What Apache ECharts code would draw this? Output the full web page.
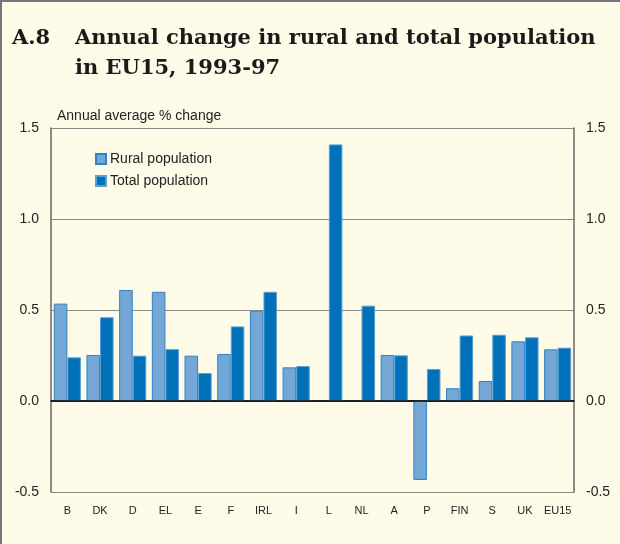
<!DOCTYPE html>
<html><head><meta charset="utf-8">
<script src="https://cdn.jsdelivr.net/npm/echarts@6/dist/echarts.min.js"></script>
<style>html,body{margin:0;padding:0;background:#fffbe9}#c{width:620px;height:544px}</style>
</head><body><div id="c"></div>
<script>
const categories = ['B','DK','D','EL','E','F','IRL','I','L','NL','A','P','FIN','S','UK','EU15'];
const rural = [0.535,0.253,0.61,0.60,0.249,0.258,0.496,0.185,null,null,0.253,-0.434,0.07,0.11,0.328,0.284];
const total = [0.24,0.46,0.249,0.285,0.154,0.41,0.60,0.192,1.41,0.524,0.251,0.176,0.36,0.364,0.35,0.293];
const chart = echarts.init(document.getElementById('c'));
const fmt = v => v.toFixed(1);
const titleFont = {fontFamily:'DejaVu Serif', fontWeight:'bold', fontSize:21, fill:'#1a1a1a', verticalAlign:'middle'};
const yAxisBase = {
  type:'value', min:-0.5, max:1.5, interval:0.5,
  axisLine:{show:true, lineStyle:{color:'#666', width:1.5}},
  axisTick:{show:false},
  splitLine:{show:true, lineStyle:{color:'#8a8a8a', width:1.2}},
  axisLabel:{formatter:fmt, color:'#222', fontSize:14, fontFamily:'Liberation Sans, Arial', margin:12}
};
chart.setOption({
  backgroundColor:'#fffbe9',
  animation:false,
  graphic:[
    {type:'line', shape:{x1:1,y1:0,x2:1,y2:544}, style:{stroke:'#777', lineWidth:2}},
    {type:'line', shape:{x1:0,y1:1,x2:620,y2:1}, style:{stroke:'#777', lineWidth:2}},
    {type:'text', x:12, y:39, style:Object.assign({text:'A.8'}, titleFont)},
    {type:'text', x:75, y:39, style:Object.assign({text:'Annual change in rural and total population'}, titleFont)},
    {type:'text', x:75, y:69, style:Object.assign({text:'in EU15, 1993-97'}, titleFont)},
    {type:'text', left:57, top:109, style:{text:'Annual average % change', fontSize:14, fontFamily:'Liberation Sans, Arial', fill:'#222'}}
  ],
  legend:{
    orient:'vertical', left:95, top:152, padding:0, itemWidth:10, itemHeight:10, itemGap:8,
    icon:'rect',
    textStyle:{fontSize:14, fontFamily:'Liberation Sans, Arial', color:'#222', padding:[0,0,0,-1]},
    data:['Rural population','Total population']
  },
  grid:{left:51, right:46, top:128, bottom:52},
  xAxis:{
    type:'category', data:categories,
    axisLine:{show:true, lineStyle:{color:'#222', width:1.5}},
    axisTick:{show:false},
    axisLabel:{color:'#222', fontSize:11, fontFamily:'Liberation Sans, Arial', margin:13, interval:0}
  },
  yAxis:[
    Object.assign({}, yAxisBase, {position:'left'}),
    Object.assign({}, yAxisBase, {position:'right', splitLine:{show:false}})
  ],
  series:[
    {name:'Rural population', type:'bar', data:rural, barGap:'0%', barCategoryGap:'17%',
     itemStyle:{color:'#74a7d6', borderColor:'#3183c4', borderWidth:1},
     markLine:{silent:true, symbol:'none', label:{show:false}, lineStyle:{color:'#111', width:1.5, type:'solid'}, data:[{yAxis:0}]}
    },
    {name:'Total population', type:'bar', data:total,
     itemStyle:{color:'#0070b8', borderColor:'#5aa0d4', borderWidth:1}
    }
  ]
});
</script></body></html>
